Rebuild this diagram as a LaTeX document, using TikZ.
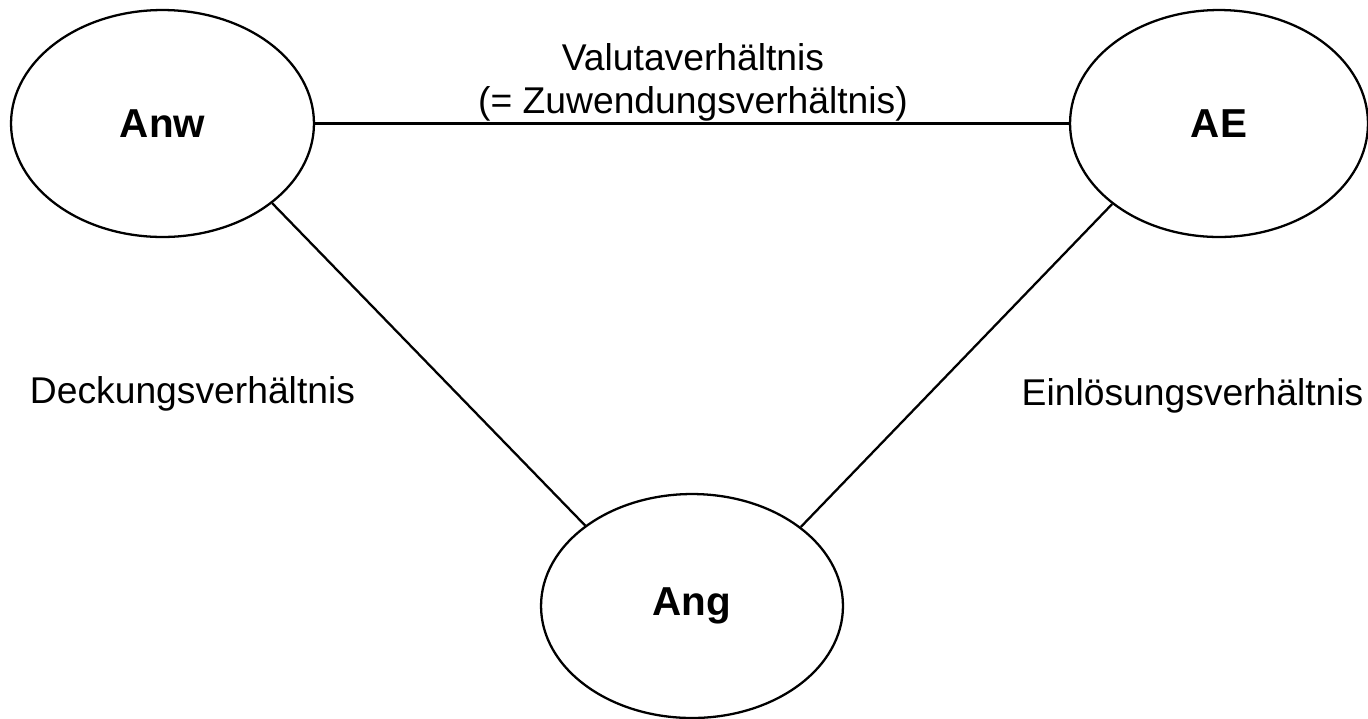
\documentclass[tikz,border=0pt]{standalone}
\usepackage{fontspec}
\setmainfont{Liberation Sans}
\usetikzlibrary{shapes.geometric}
\tikzset{
  party/.style={ellipse, draw, line width=1.3pt, inner sep=0pt, font=\fontsize{23}{27}\selectfont\bfseries},
  rel/.style={inner sep=0pt, font=\fontsize{21.2}{24.5}\selectfont, align=center},
  link/.style={line width=1.3pt}
}
\begin{document}
\begin{tikzpicture}[x=0.02cm, y=-0.02cm]
\useasboundingbox (0,0) rectangle (1368,718);
\node[party, minimum width=6.06cm, minimum height=4.54cm] (anw) at (162.5,123.5) {Anw};
\node[party, minimum width=5.96cm, minimum height=4.54cm] (ae) at (1219,123.5) {AE};
\node[party, minimum width=6.04cm, minimum height=4.48cm] (ang) at (692,606) {Ang};
\draw[link] (anw.east) -- (ae.west);
\draw[link] (anw.-36.5) -- (ang.143.2);
\draw[link] (ae.217.6) -- (ang.36.5);
\node[rel, anchor=south] (valuta) at (693,121.5) {Valutaverhältnis\\(= Zuwendungsverhältnis)};
\node[rel, anchor=base] (deckung) at (192.5,403) {Deckungsverhältnis};
\node[rel, anchor=base] (einloes) at (1192.5,405) {Einlösungsverhältnis};
\end{tikzpicture}
\end{document}
